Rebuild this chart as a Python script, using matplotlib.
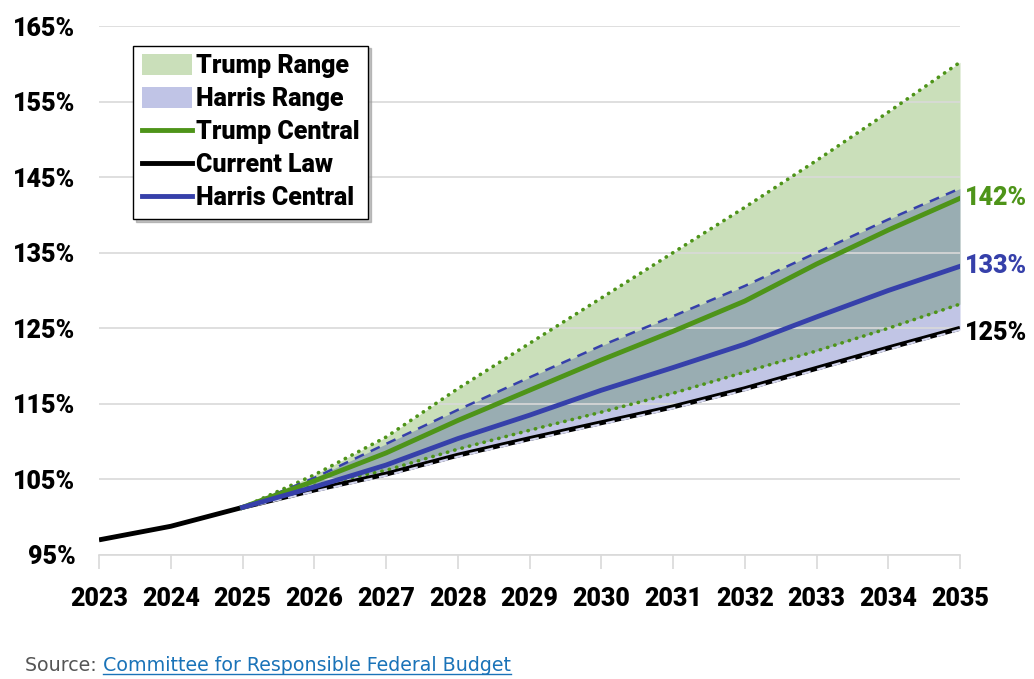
import matplotlib
matplotlib.use("Agg")
import matplotlib.pyplot as plt
from matplotlib.patches import Patch
from matplotlib.lines import Line2D

years = list(range(2023, 2036))
proj_years = list(range(2025, 2036))

current_law = [97.0, 98.8, 101.3, 103.6, 105.7, 108.2, 110.4, 112.5, 114.6, 117.0, 119.7, 122.4, 125.0]
trump_central = [101.3, 104.8, 108.5, 112.8, 116.8, 120.8, 124.6, 128.6, 133.5, 138.0, 142.2]
trump_high = [101.3, 105.6, 110.6, 117.0, 123.0, 129.0, 135.0, 141.0, 147.2, 153.6, 160.2]
trump_low = [101.3, 104.2, 106.2, 109.0, 111.5, 113.9, 116.4, 119.2, 122.0, 125.0, 128.2]
harris_central = [101.3, 104.0, 106.9, 110.4, 113.5, 116.8, 119.8, 122.9, 126.5, 130.0, 133.2]
harris_high = [101.3, 105.2, 109.7, 114.2, 118.5, 122.7, 126.6, 130.6, 135.0, 139.4, 143.5]
harris_low = [101.2, 103.4, 105.5, 108.0, 110.2, 112.3, 114.4, 116.8, 119.5, 122.2, 124.8]

y_ticks = [95, 105, 115, 125, 135, 145, 155, 165]

GREEN = "#4e9419"
BLUE = "#3640aa"
FONT = ["Roboto", "DejaVu Sans"]
SIZE = 18

fig = plt.figure(figsize=(10.34, 6.79), dpi=100)
ax = fig.add_axes([99 / 1034, 1 - 555 / 679, (960 - 99) / 1034, (555 - 26) / 679])

# ranges
ax.fill_between(proj_years, trump_low, trump_high, color="#cadfba", lw=0, zorder=0.2)
ax.fill_between(proj_years, harris_low, harris_high, color="#0a1a9b", alpha=0.25, lw=0, zorder=0.3)

# range bounds
ax.plot(proj_years, trump_high, color=GREEN, lw=2.6, ls=(0, (0.1, 2.0)),
        dash_capstyle="round", zorder=3)
ax.plot(proj_years, trump_low, color=GREEN, lw=2.6, ls=(0, (0.1, 2.0)),
        dash_capstyle="round", zorder=3)
ax.plot(proj_years, harris_high, color=BLUE, lw=1.8, ls=(0, (4, 3)), zorder=3)

# central lines
ax.plot(years, current_law, color="black", lw=3.5, zorder=4, solid_capstyle="butt")
ax.plot(proj_years, harris_low, color="#d4d6ee", lw=1.6, ls=(0, (4, 3)), zorder=4.5)
ax.plot(proj_years, trump_central, color=GREEN, lw=3.5, zorder=5)
ax.plot(proj_years, harris_central, color=BLUE, lw=3.5, zorder=5)

ax.set_xlim(2023, 2035)
ax.set_ylim(95, 165)
ax.set_yticks(y_ticks)
ax.set_yticklabels([f"{v}%" for v in y_ticks])
ax.set_xticks(years)
ax.set_xticklabels([str(y) for y in years])

ax.set_axisbelow(True)
ax.grid(axis="y", color="#d9d9d9", lw=1.2)
for side in ["left", "right", "top"]:
    ax.spines[side].set_visible(False)
ax.spines["bottom"].set_color("#d9d9d9")
ax.spines["bottom"].set_linewidth(1.2)
ax.tick_params(axis="y", length=0, pad=17)
ax.tick_params(axis="x", length=10, width=1.2, color="#d9d9d9", direction="out", pad=13)
for lab in ax.get_xticklabels() + ax.get_yticklabels():
    lab.set_family(FONT)
    lab.set_fontweight("heavy")
    lab.set_fontsize(SIZE)

# end labels
for val, col, txt in [(trump_central[-1], GREEN, "142%"),
                      (harris_central[-1], BLUE, "133%"),
                      (current_law[-1] - 0.6, "black", "125%")]:
    ax.text(2035.07, val, txt, color=col, fontsize=SIZE, fontweight="heavy",
            family=FONT, va="center", ha="left", clip_on=False)

handles = [
    Patch(facecolor="#cadfba", edgecolor="none", label="Trump Range"),
    Patch(facecolor="#c0c4e6", edgecolor="none", label="Harris Range"),
    Line2D([0], [0], color=GREEN, lw=3.5, label="Trump Central"),
    Line2D([0], [0], color="black", lw=3.5, label="Current Law"),
    Line2D([0], [0], color=BLUE, lw=3.5, label="Harris Central"),
]
leg = ax.legend(handles=handles, loc="upper left", bbox_to_anchor=(0.04, 0.963),
                prop={"family": FONT, "weight": "heavy", "size": SIZE},
                frameon=True, fancybox=False, shadow={"color": "#999999", "alpha": 0.6},
                handlelength=2.0, handleheight=0.9,
                handletextpad=0.15, labelspacing=0.36, borderpad=0.35, borderaxespad=0)
leg.get_frame().set_edgecolor("black")
leg.get_frame().set_linewidth(1.0)

# source line
src = fig.text(25 / 1034, 1 - 671 / 679, "Source: ", color="#555555", fontsize=13.7,
               family="DejaVu Sans", va="baseline")
fig.canvas.draw()
bb = src.get_window_extent()
link = fig.text(bb.x1 / 1034, 1 - 671 / 679, "Committee for Responsible Federal Budget",
                color="#1a73b8", fontsize=13.7, family="DejaVu Sans", va="baseline")
fig.canvas.draw()
lb = link.get_window_extent()
fig.add_artist(Line2D([lb.x0 / 1034, lb.x1 / 1034], [(1 - 674 / 679), (1 - 674 / 679)],
                      color="#1a73b8", lw=1.0, transform=fig.transFigure))

fig.savefig("out.png", dpi=100)
